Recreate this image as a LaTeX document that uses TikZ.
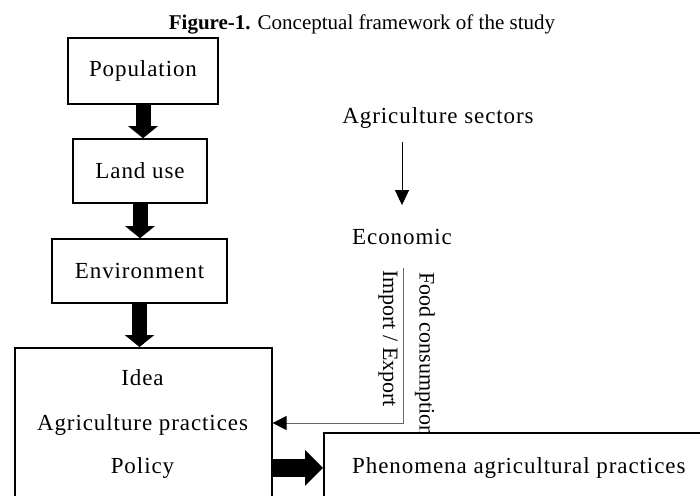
\documentclass[tikz,border=0pt]{standalone}
\usepackage{fontspec}
\setmainfont{Liberation Serif}
\newfontfamily\boxfont[LetterSpace=4]{Liberation Serif}
\usetikzlibrary{arrows.meta,positioning}

\begin{document}
\begin{tikzpicture}[x=1pt,y=-1pt,
  box/.style = {shape=rectangle, draw, line width=1.6pt, fill=white,
    inner sep=0pt, font=\boxfont\fontsize{23}{27}\selectfont},
  word/.style = {inner sep=0pt, font=\boxfont\fontsize{23}{27}\selectfont},
  side/.style = {inner sep=0pt, rotate=-90, anchor=west,
    font=\fontsize{22}{26}\selectfont},
  fat/.style = {line width=15pt, -{Triangle[width=29pt,length=12pt]}},
  fatter/.style = {line width=18pt, -{Triangle[width=35pt,length=18pt]}},
  thin/.style = {line width=0.9pt, -{Triangle[width=14pt,length=15pt]}},
 ]
 \clip (0,0) rectangle (700,495);
 \node[font=\fontsize{21}{25}\selectfont] (title) at (362,24)
   {\textbf{Figure-1.} Conceptual framework of the study};
 \node[box, minimum width=150pt, minimum height=66pt] (pop) at (143,71) {Population};
 \node[box, minimum width=134pt, minimum height=64pt] (land) at (140,171) {Land use};
 \node[box, minimum width=175pt, minimum height=64pt] (env) at (139.5,271) {Environment};
 \node[box, anchor=north west, minimum width=257pt, minimum height=175pt] (frame) at (14,347) {};
 \node[word] (idea) at (142.5,378) {Idea};
 \node[word] (practice) at (142.5,425) {Agriculture practices};
 \node[word] (policy) at (142.5,468) {Policy};
 \node[word] (sectors) at (438,118) {Agriculture sectors};
 \node[word] (econ) at (402,237) {Economic};
 \node[side] (trade) at (388,270) {Import / Export};
 \node[side] (food) at (425,272) {Food consumption};
 \node[box, anchor=north west, minimum width=390pt, minimum height=70pt] (phen) at (323,432)
   {Phenomena agricultural practices};
 \coordinate (tradetop) at (403,268);
 \coordinate (tradeturn) at (403,423);

 \draw[fat] (pop.south) -- (pop.south |- land.north);
 \draw[fat] (land.south) -- (land.south |- env.north);
 \draw[fat] (env.south) -- (env.south |- frame.north);
 \draw[fatter] (phen.west -| frame.east) -- (phen.west);
 \draw[thin, shorten <=13pt, shorten >=24pt] (econ |- sectors.south) -- (econ.north);
 \draw[line width=0.8pt, black!60, -{Triangle[width=14pt,length=14pt,black]}]
   (tradetop) -- (tradeturn) -- (tradeturn -| frame.east);
\end{tikzpicture}
\end{document}
